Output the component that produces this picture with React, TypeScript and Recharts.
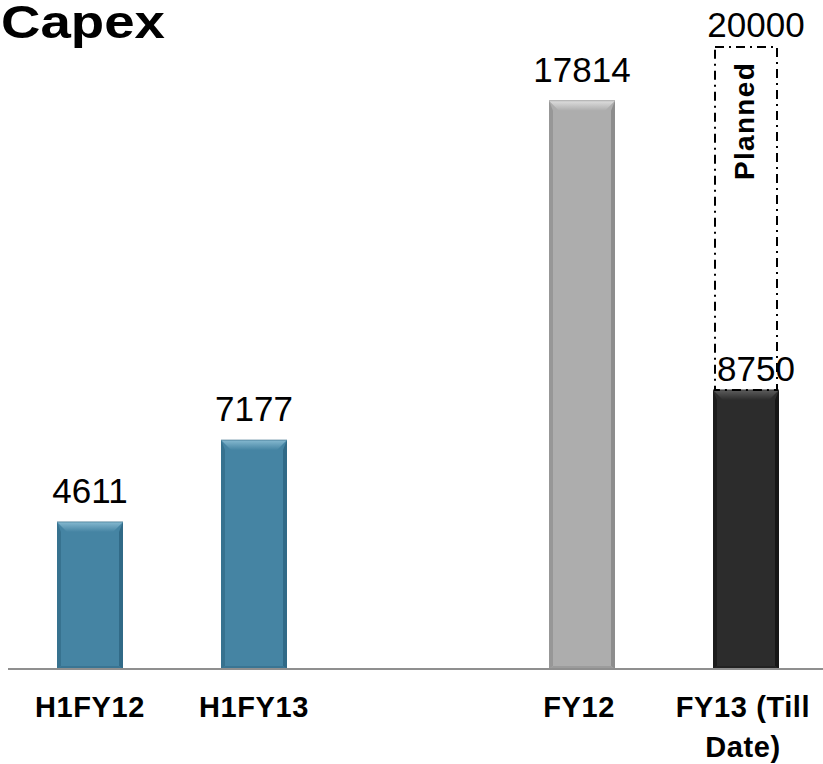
import { BarChart, Bar, XAxis, YAxis, Cell, LabelList } from 'recharts';

const categories = ['H1FY12', 'H1FY13', '', 'FY12', 'FY13 (Till Date)'];
const actualValues = [4611, 7177, null, 17814, 8750];
// dashed "Planned" segment stacked on top of FY13 (its top sits near 19500 in the picture)
const plannedSegment = [null, null, null, null, 10750];
const plannedLabels = [null, null, null, null, '20000'];

const data = categories.map((name, i) => ({
  name,
  actual: actualValues[i],
  planned: plannedSegment[i],
  plannedLabel: plannedLabels[i],
}));

const FONT = '"Liberation Sans", Arial, Helvetica, sans-serif';

const barColors = ['#4584a3', '#4584a3', '#4584a3', '#adadad', '#2c2c2c'];
const bevel: Record<string, { top: string; edge: string; bottom: string }> = {
  '#4584a3': { top: '#86b9d0', edge: '#2c6480', bottom: '#3a7593' },
  '#adadad': { top: '#dedede', edge: '#858585', bottom: '#9c9c9c' },
  '#2c2c2c': { top: '#5e5e5e', edge: '#111111', bottom: '#222222' },
};

const BevelBar = (props: any) => {
  const { x, y, width: w, height: h, fill } = props;
  if (!h || h <= 0) return null;
  const c = bevel[fill] ?? bevel['#4584a3'];
  const b = Math.min(10, h / 2);
  const s = 4;
  const gid = `top-${fill.slice(1)}`;
  return (
    <g>
      <defs>
        <linearGradient id={gid} x1="0" y1="0" x2="0" y2="1">
          <stop offset="0%" stopColor={c.top} />
          <stop offset="100%" stopColor={fill} />
        </linearGradient>
      </defs>
      <rect x={x} y={y} width={w} height={h} fill={fill} />
      <polygon points={`${x},${y} ${x + s},${y + b} ${x + s},${y + h - 3} ${x},${y + h}`} fill={c.edge} opacity={0.55} />
      <polygon points={`${x + w},${y} ${x + w - s},${y + b} ${x + w - s},${y + h - 3} ${x + w},${y + h}`} fill={c.edge} opacity={0.8} />
      <polygon points={`${x},${y + h} ${x + s},${y + h - 3} ${x + w - s},${y + h - 3} ${x + w},${y + h}`} fill={c.bottom} />
      <polygon points={`${x},${y} ${x + w},${y} ${x + w - b},${y + b} ${x + b},${y + b}`} fill={`url(#${gid})`} />
      <line x1={x} y1={y} x2={x + w} y2={y} stroke={c.edge} strokeWidth={1} opacity={0.6} />
    </g>
  );
};

const PlannedBox = (props: any) => {
  const { x, y, width: w, height: h } = props;
  if (!h || h <= 0) return null;
  return (
    <g>
      <rect
        x={x + 2}
        y={y}
        width={w - 4}
        height={h}
        fill="none"
        stroke="#000"
        strokeWidth={2}
        strokeDasharray="9 5 2 5"
      />
      <text
        x={x + w / 2 + 8}
        y={y + 74}
        transform={`rotate(-90 ${x + w / 2 + 8} ${y + 74})`}
        textAnchor="middle"
        fontFamily={FONT}
        fontWeight={700}
        fontSize={28}
        letterSpacing={1.3}
        fill="#000"
      >
        Planned
      </text>
    </g>
  );
};

const ActualLabel = (props: any) => {
  const { x, y, width, value, index } = props;
  if (value == null) return null;
  const last = index === categories.length - 1;
  return (
    <text
      x={x + width / 2 + (last ? 10 : 0)}
      y={y - (last ? 9 : 19)}
      textAnchor="middle"
      fontFamily={FONT}
      fontSize={35}
      fill="#000"
    >
      {value}
    </text>
  );
};

const PlannedLabel = (props: any) => {
  const { x, y, width, index } = props;
  const label = plannedLabels[index];
  if (!label) return null;
  return (
    <text x={x + width / 2 + 10} y={y - 10} textAnchor="middle" fontFamily={FONT} fontSize={35} fill="#000">
      {label}
    </text>
  );
};

const CategoryTick = (props: any) => {
  const { x, payload } = props;
  const name: string = payload.value;
  if (!name) return null;
  const lines = name === 'FY13 (Till Date)' ? ['FY13 (Till', 'Date)'] : [name];
  return (
    <text
      x={x}
      y={669}
      textAnchor="middle"
      fontFamily={FONT}
      fontWeight={700}
      fontSize={29}
      letterSpacing={0.6}
      fill="#000"
    >
      {lines.map((l, i) => (
        <tspan key={i} x={x - (name.startsWith('FY') ? 3 : 0)} dy={i === 0 ? 48 : 40}>
          {l}
        </tspan>
      ))}
    </text>
  );
};

export default function App() {
  return (
    <div
      style={{
        position: 'fixed',
        left: 0,
        top: 0,
        width: 823,
        height: 764,
        overflow: 'hidden',
        background: '#fff',
      }}
    >
      <BarChart
        width={828}
        height={764}
        data={data}
        margin={{ top: 31, right: 0, left: 8, bottom: 0 }}
        barSize={66}
      >
        <XAxis
          dataKey="name"
          height={95}
          tickLine={false}
          axisLine={{ stroke: '#8f8f8f', strokeWidth: 2 }}
          interval={0}
          tick={<CategoryTick />}
        />
        <YAxis hide domain={[0, 20000]} />
        <Bar dataKey="actual" stackId="a" shape={<BevelBar />} isAnimationActive={false}>
          {data.map((_, i) => (
            <Cell key={i} fill={barColors[i]} />
          ))}
          <LabelList dataKey="actual" content={<ActualLabel />} />
        </Bar>
        <Bar dataKey="planned" stackId="a" shape={<PlannedBox />} isAnimationActive={false}>
          <LabelList dataKey="planned" content={<PlannedLabel />} />
        </Bar>
      </BarChart>
      <svg width={823} height={60} style={{ position: 'absolute', left: 0, top: 0, pointerEvents: 'none' }}>
        <text
          x={1}
          y={38}
          fontFamily={FONT}
          fontWeight={700}
          fontSize={47}
          textLength={164}
          lengthAdjust="spacingAndGlyphs"
          fill="#000"
        >
          Capex
        </text>
      </svg>
    </div>
  );
}
